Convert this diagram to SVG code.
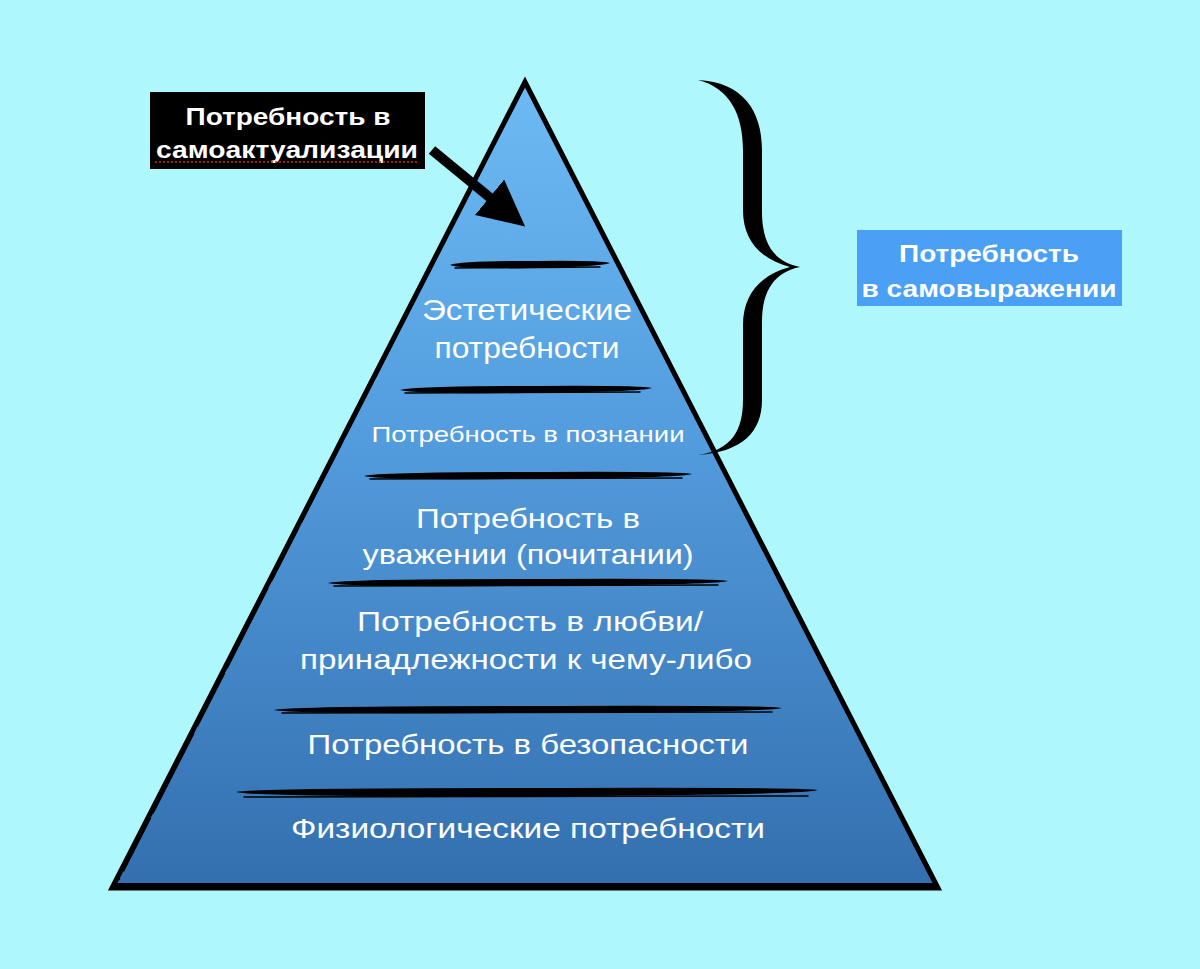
<svg xmlns="http://www.w3.org/2000/svg" width="1200" height="969" viewBox="0 0 1200 969">
<defs>
<linearGradient id="pg" x1="0" y1="82" x2="0" y2="888" gradientUnits="userSpaceOnUse">
<stop offset="0" stop-color="#6dbaf3"/>
<stop offset="0.4" stop-color="#559fe0"/>
<stop offset="1" stop-color="#336faf"/>
</linearGradient>
<marker id="ah" markerWidth="4.6" markerHeight="4.6" refX="2" refY="2.3" orient="auto" markerUnits="strokeWidth">
<path d="M0,0 L4.6,2.3 L0,4.6 Z" fill="#000"/>
</marker>
<style>
.t{font-family:"Liberation Sans",Arial,sans-serif;fill:#fff;text-anchor:middle}
.b{font-weight:bold}
.brush{fill:#000}
.thin{stroke:#000;fill:none;stroke-width:1.5;stroke-linecap:round}
</style>
</defs>
<rect width="1200" height="969" fill="#aef7fd"/>
<g id="pyramid">
<polygon points="525,82 112,888 938,888" fill="url(#pg)" stroke="#000" stroke-width="5" stroke-linejoin="miter"/>
<path d="M521,92 L119,880 M533,96 L933,882" stroke="#000" stroke-width="1.5" fill="none" stroke-dasharray="60 8 90 5"/>
<path d="M116,885 L934,885" stroke="#000" stroke-width="4" fill="none"/>
</g>
<g id="dividers">
<path class="brush" d="M450,265 Q460,261 530,261 Q600,260 610,263 Q600,267 530,268 Q460,269 450,265 Z"/>
<path class="brush" d="M400,390 Q415,386 525,386 Q640,385 652,388 Q640,392 525,393 Q415,394 400,390 Z"/>
<path class="brush" d="M364,476 Q380,472 528,472 Q680,471 692,474 Q680,478 528,479 Q380,480 364,476 Z"/>
<path class="brush" d="M328,583 Q345,579 528,579 Q715,578 728,581 Q715,585 528,586 Q345,587 328,583 Z"/>
<path class="brush" d="M274,710 Q290,706 528,706 Q770,705 782,708 Q770,712 528,713 Q290,714 274,710 Z"/>
<path class="brush" d="M236,792 Q255,788 528,788 Q805,787 818,790 Q805,795 528,796 Q255,797 236,792 Z"/>
<path class="thin" d="M455,268 L600,267 M405,393 L640,392 M370,479 L682,478 M334,586 L718,585 M282,713 L772,712 M244,797 L808,796"/>
</g>
<g id="levels">
<text class="t" x="527" y="320" font-size="30" textLength="210" lengthAdjust="spacingAndGlyphs">Эстетические</text>
<text class="t" x="527" y="358" font-size="30" textLength="185" lengthAdjust="spacingAndGlyphs">потребности</text>
<text class="t" x="528" y="442" font-size="22" textLength="313" lengthAdjust="spacingAndGlyphs">Потребность в познании</text>
<text class="t" x="528" y="528" font-size="28" textLength="224" lengthAdjust="spacingAndGlyphs">Потребность в</text>
<text class="t" x="528" y="564" font-size="28" textLength="331" lengthAdjust="spacingAndGlyphs">уважении (почитании)</text>
<text class="t" x="530" y="631" font-size="28" textLength="346" lengthAdjust="spacingAndGlyphs">Потребность в любви/</text>
<text class="t" x="526" y="669" font-size="28" textLength="452" lengthAdjust="spacingAndGlyphs">принадлежности к чему-либо</text>
<text class="t" x="528" y="754" font-size="28" textLength="441" lengthAdjust="spacingAndGlyphs">Потребность в безопасности</text>
<text class="t" x="528" y="838" font-size="28" textLength="474" lengthAdjust="spacingAndGlyphs">Физиологические потребности</text>
</g>
<g id="label-selfactualization">
<rect x="150" y="92" width="275" height="77" fill="#000"/>
<text class="t b" x="288" y="125" font-size="24" textLength="205" lengthAdjust="spacingAndGlyphs">Потребность в</text>
<text class="t b" x="287" y="158" font-size="24" textLength="262" lengthAdjust="spacingAndGlyphs">самоактуализации</text>
<line x1="155" y1="162" x2="418" y2="162" stroke="#e0201c" stroke-width="1.5" stroke-dasharray="2 2"/>
</g>
<g id="label-selfexpression">
<rect x="857" y="230" width="265" height="76" fill="#4aa0f5"/>
<text class="t b" x="989" y="262" font-size="24" textLength="180" lengthAdjust="spacingAndGlyphs">Потребность</text>
<text class="t b" x="989" y="297" font-size="24" textLength="255" lengthAdjust="spacingAndGlyphs">в самовыражении</text>
</g>
<g id="connectors">
<line x1="432" y1="150" x2="505" y2="210" stroke="#000" stroke-width="10" marker-end="url(#ah)"/>
<path d="M698,80 C742,82 762,110 762,150 L762,212 C762,245 775,262 800,267 C775,272 762,290 762,322 L762,400 C762,432 742,452 698,455 C732,450 743,430 743,400 L743,325 C743,295 760,275 790,267 C760,259 743,240 743,210 L743,150 C743,115 730,88 698,80 Z" fill="#000"/>
</g>
</svg>
